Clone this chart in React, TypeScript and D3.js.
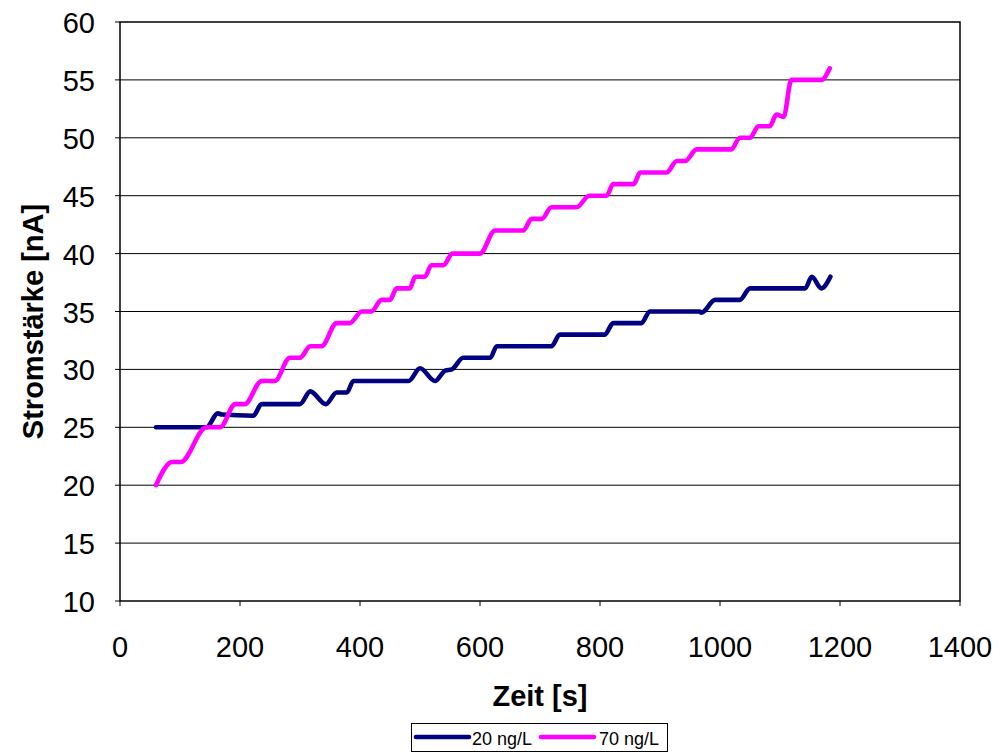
import React from "react";
import * as d3 from "d3";

const xTicks = [0, 200, 400, 600, 800, 1000, 1200, 1400];
const yTicks = [10, 15, 20, 25, 30, 35, 40, 45, 50, 55, 60];

const series20Time = [60, 144, 163, 170, 222, 236, 300, 317, 343, 361, 378, 389, 481, 500, 525, 542, 553, 572, 617, 628, 719, 733, 808, 822, 869, 883, 966, 969, 992, 1033, 1050, 1142, 1153, 1169, 1184];
const series20Value = [25, 25, 26.2, 26.1, 26, 27, 27, 28.1, 27, 28, 28, 29, 29, 30.1, 29, 29.9, 30, 31, 31, 32, 32, 33, 33, 34, 34, 35, 35, 34.9, 36, 36, 37, 37, 38, 37, 38];

const series70Time = [60, 87, 101, 144, 167, 192, 208, 236, 258, 283, 300, 317, 336, 361, 383, 403, 419, 436, 450, 461, 483, 492, 508, 519, 539, 554, 600, 625, 672, 686, 703, 719, 761, 782, 811, 822, 856, 867, 911, 928, 942, 961, 1019, 1033, 1050, 1064, 1083, 1094, 1106, 1119, 1169, 1183];
const series70Value = [20, 22, 22, 25, 25, 27, 27, 29, 29, 31, 31, 32, 32, 34, 34, 35, 35, 36, 36, 37, 37, 38, 38, 39, 39, 40, 40, 42, 42, 43, 43, 44, 44, 45, 45, 46, 46, 47, 47, 48, 48, 49, 49, 50, 50, 51, 51, 52, 51.8, 55, 55, 56];

const seriesNames = ["20 ng/L", "70 ng/L"];
const seriesColors = ["#000080", "#FF00FF"];

const FONT = "Liberation Sans, Arial, sans-serif";

export default function App() {
  const left = 120, right = 960, top = 22, bottom = 601;
  const x = d3.scaleLinear().domain([0, 1400]).range([left, right]);
  const y = d3.scaleLinear().domain([10, 60]).range([bottom, top]);

  const line = d3
    .line<[number, number]>()
    .x((d) => x(d[0]))
    .y((d) => y(d[1]))
    .curve(d3.curveMonotoneX);

  const d20 = series20Time.map((t, i) => [t, series20Value[i]] as [number, number]);
  const d70 = series70Time.map((t, i) => [t, series70Value[i]] as [number, number]);

  return (
    <svg width={1000} height={756} style={{ position: "absolute", left: 0, top: 0, background: "#fff" }} fontFamily={FONT}>
      <rect x={0} y={0} width={1000} height={756} fill="#fff" />
      {yTicks.map((t) => (
        <g key={"y" + t}>
          {t !== 10 && t !== 60 && (
            <line x1={left} x2={right} y1={y(t)} y2={y(t)} stroke="#000" strokeWidth={1} />
          )}
          <line x1={left - 5} x2={left} y1={y(t)} y2={y(t)} stroke="#000" strokeWidth={1} />
          <text x={95} y={y(t) + 11} textAnchor="end" fontSize={29} fill="#000">
            {t}
          </text>
        </g>
      ))}
      {xTicks.map((t) => (
        <g key={"x" + t}>
          <line x1={x(t)} x2={x(t)} y1={bottom} y2={bottom + 5} stroke="#000" strokeWidth={1} />
          <text x={x(t)} y={657} textAnchor="middle" fontSize={29} fill="#000">
            {t}
          </text>
        </g>
      ))}
      <rect x={left} y={top} width={right - left} height={bottom - top} fill="none" stroke="#000" strokeWidth={1.5} />
      <path d={line(d20) || ""} fill="none" stroke={seriesColors[0]} strokeWidth={4.6} strokeLinejoin="round" strokeLinecap="round" />
      <path d={line(d70) || ""} fill="none" stroke={seriesColors[1]} strokeWidth={4.6} strokeLinejoin="round" strokeLinecap="round" />
      <text
        transform={`translate(43,${(top + bottom) / 2 + 10}) rotate(-90)`}
        textAnchor="middle"
        fontSize={29}
        fontWeight="bold"
        fill="#000"
      >
        Stromstärke [nA]
      </text>
      <text x={540} y={706} textAnchor="middle" fontSize={29} fontWeight="bold" fill="#000">
        Zeit [s]
      </text>
      <rect x={411.5} y={723.5} width={256} height={28} fill="#fff" stroke="#000" strokeWidth={1} />
      <line x1={416} x2={469} y1={737} y2={737} stroke={seriesColors[0]} strokeWidth={4.6} strokeLinecap="round" />
      <text x={472} y={744.5} fontSize={18} fill="#000">{seriesNames[0]}</text>
      <line x1={541} x2={594} y1={737} y2={737} stroke={seriesColors[1]} strokeWidth={4.6} strokeLinecap="round" />
      <text x={599} y={744.5} fontSize={18} fill="#000">{seriesNames[1]}</text>
    </svg>
  );
}
